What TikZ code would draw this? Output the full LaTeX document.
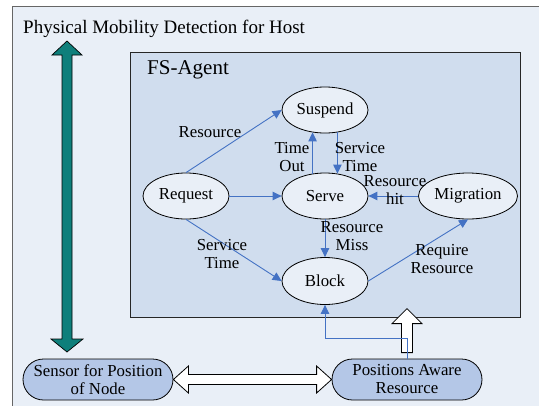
\documentclass[tikz,border=0pt]{standalone}
\usepackage{fontspec}
\setmainfont{Liberation Serif}
\usetikzlibrary{arrows.meta,calc,shapes.geometric}
\definecolor{hostbg}{HTML}{E9EFF7}
\definecolor{agentbg}{HTML}{D0DDEE}
\definecolor{statebg}{HTML}{E9EFF7}
\definecolor{sensebg}{HTML}{B4C7E7}
\definecolor{flowblue}{HTML}{4472C4}
\definecolor{tealarrow}{HTML}{0E7F7B}
\tikzset{
  lbl/.style={font=\fontsize{16.8}{18}\selectfont, align=center, inner sep=0pt},
  state/.style={ellipse, draw=black, line width=0.8pt, fill=statebg,
    minimum width=86pt, minimum height=46pt, inner sep=0pt,
    font=\fontsize{16.8}{18}\selectfont},
  sensebox/.style={rectangle, rounded corners=20.5pt, draw=black, line width=0.8pt,
    fill=sensebg, minimum width=150pt, minimum height=41pt, inner sep=0pt,
    align=center, font=\fontsize{16.8}{18}\selectfont},
  flow/.style={draw=flowblue, line width=0.9pt, -{Triangle[length=9pt,width=8.5pt]}},
  hollow/.style={draw=black, line width=0.8pt, fill=white},
}
\begin{document}
\begin{tikzpicture}[x=1pt,y=-1pt]
\useasboundingbox (0,0) rectangle (539,405);
% host frame, running past the right and bottom edges
\draw[fill=hostbg, draw=black!60, line width=1pt] (12.5,6.7) rectangle (560,430);
\node[anchor=base west, inner sep=0pt, font=\fontsize{19}{21}\selectfont] (title) at (23,33)
  {Physical Mobility Detection for Host};

% FS-Agent frame
\draw[fill=agentbg, draw=black!85, line width=1pt] (130,52) rectangle (520,317);
\node[anchor=base west, inner sep=0pt, font=\fontsize{21}{23}\selectfont] (agent) at (147,74) {FS-Agent};

% vertical mobility arrow
\draw[fill=tealarrow, draw=black, line width=0.7pt]
  (67,41) -- (82,55) -- (72,55) -- (72,339) -- (83,339) -- (67,352)
  -- (51,339) -- (62,339) -- (62,55) -- (52,55) -- cycle;

% states
\node[state] (suspend) at (325,110) {Suspend};
\node[state] (serve) at (325,196) {Serve};
\node[state] (request) at (186,196) {Request};
\node[state, minimum width=99pt] (migration) at (468,196) {Migration};
\node[state, minimum height=47pt] (block) at (325,281) {Block};

% sensing nodes
\node[sensebox] (sensor) at (98,379.5) {Sensor for Position\\of Node};
\node[sensebox] (aware) at (407,379.5) {Positions Aware\\Resource};

% transitions
\draw[flow] (request.north) -- (suspend.west);
\draw[flow] (request.east) -- (serve.west);
\draw[flow] (serve.119) -- (suspend.241);
\draw[flow] (suspend.299) -- (serve.61);
\draw[flow] (migration.west) -- (serve.east);
\draw[flow] (serve.south) -- (block.north);
\draw[flow] (request.south) -- (block.west);
\draw[flow] (block.east) -- (migration.south);
\draw[flow] (aware.north) -- ++(0,-20) -| (block.south);

% transition labels
\node[lbl] (lres) at (210,132) {Resource};
\node[lbl] (lout) at (292,157) {Time\\Out};
\node[lbl] (lsvc) at (360,157) {Service\\Time};
\node[lbl] (lhit) at (395,190.5) {Resource\\hit};
\node[lbl] (lmiss) at (352,236) {Resource\\Miss};
\node[lbl] (lsvc2) at (222,254) {Service\\Time};
\node[lbl] (lreq) at (442,259) {Require\\Resource};

% hollow arrow between the sensing nodes
\draw[hollow] let \p1=(sensor.east), \p2=(aware.west) in
  (\x1,\y1) -- (\x1+15,\y1+13.5) -- (\x1+15,\y1+5) -- (\x2-15,\y2+5) -- (\x2-15,\y2+13.5)
  -- (\x2,\y2) -- (\x2-15,\y2-13.5) -- (\x2-15,\y2-5) -- (\x1+15,\y1-5) -- (\x1+15,\y1-13.5) -- cycle;

% hollow arrow from the resource up into the agent
\draw[hollow] let \p1=(aware.north) in
  (\x1-5.5,\y1+6) -- (\x1-5.5,\y1+35) -- (\x1-15,\y1+35) -- (\x1,\y1+50)
  -- (\x1+15,\y1+35) -- (\x1+5.5,\y1+35) -- (\x1+5.5,\y1+6) -- cycle;
% the feedback line runs over the hollow arrow
\draw[draw=flowblue, line width=0.9pt] (aware.north) -- ++(0,-20) -- ++(-30,0);
\end{tikzpicture}
\end{document}
